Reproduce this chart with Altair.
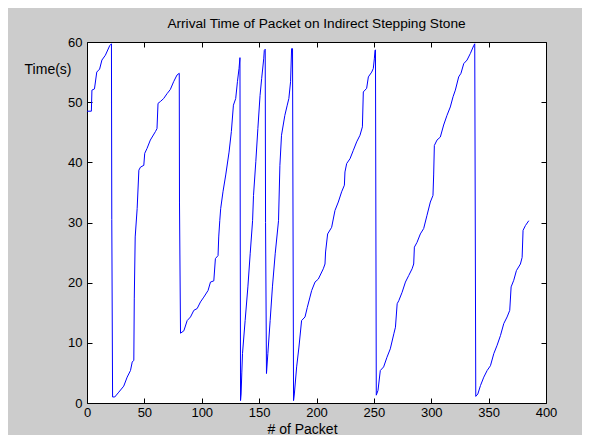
import altair as alt
import pandas as pd

# Packet index (x) and arrival time in seconds (y)
packet = [
    0, 3.8, 4.3, 6.5, 8.5, 11, 13, 16, 19.8, 21.3, 21.6, 22.3,
    24.2, 27.7, 32, 35, 37.9, 39.4, 40.8, 41.2, 42, 43.7, 45.2, 46.6, 49.5, 50.3,
    52.3, 55.2, 59.6, 61, 61.9, 63.9, 66.8, 69.7, 72.6, 75.5, 78.4, 80.4, 80.6, 81.5,
    84.4, 87.3, 90.2, 93.1, 96, 98.9, 101.8, 105.5, 107.6, 110.5, 111.9, 114.2, 114.8,
    115.7, 116.5, 118.5, 120.9, 123.8, 125.8, 127.6, 129.6, 131.1, 132.5, 133.3, 133.8,
    134.3, 134.9, 135.5, 137.8, 140.2, 142.2, 144.3, 145.1, 147.1, 148.9, 150.8, 152.2,
    154, 154.5, 155.3, 155.6, 156.4,
    157.6, 159.6, 161.6, 164, 166.9, 168.1, 169.5, 172.4, 174.5, 175.9, 177.4, 178.3,
    179.1, 180,
    180.7, 182.7, 184.7, 187, 190, 192, 194.3, 195.8, 198.7, 201.6, 205.9, 207.4, 207.9,
    209.7, 213.2, 216.1, 219, 221.9, 224.3, 224.8, 226.3, 229.2, 232.1, 235, 237.9, 240,
    240.8, 243.7, 245.2, 248.1, 249.5, 250.4, 251, 251.4, 252.1,
    253.6, 255.6, 258.5, 261.4, 264.3, 267.4, 268.8, 270.3, 271.7, 274.6, 277.5, 280.4,
    283.3, 284.7, 285.3, 287.6, 290.5, 293.4, 296.3, 299.2, 301.5, 302.1, 302.7, 305,
    307.9, 310.8, 313.7, 316.6, 319, 321, 323.9, 325.9, 328.3, 331.2, 334.1, 337, 337.9,
    338.8,
    340.6, 342.9, 345.8, 348.7, 351.6, 354.5, 357.4, 360.3, 363.2, 366.1, 368.4, 369.6,
    371.9, 374.2, 377.7, 379.2, 380, 382.1, 385,
]
time_s = [
    48.5, 48.5, 52.0, 52.2, 55.0, 55.5, 57.0, 57.8, 59.4, 59.7, 30.5, 1.0,
    1.0, 1.8, 2.8, 4.3, 5.4, 6.8, 7.1, 17.3, 27.6, 32.3, 38.7, 39.2, 39.5, 41.5,
    42.3, 43.7, 45.1, 45.6, 49.8, 50.1, 50.6, 51.4, 52.1, 53.4, 54.5, 54.8, 33.4, 11.6,
    12.0, 13.7, 14.3, 15.4, 15.7, 16.8, 17.6, 18.7, 20.1, 20.3, 24.0, 24.5, 27.6,
    30.3, 32.3, 35.1, 37.9, 41.7, 45.1, 49.5, 50.6, 53.4, 55.6, 57.4, 0.4,
    1.5, 5.0, 8.2, 13.7, 19.3, 24.8, 30.3, 34.5, 40.1, 45.6, 51.1, 53.9,
    57.2, 58.6, 58.8, 30.0, 4.9,
    8.2, 13.7, 19.3, 24.8, 30.3, 39.5, 44.5, 47.8, 49.5, 50.6, 53.4, 58.9,
    58.9, 0.4,
    1.5, 6.0, 9.3, 13.7, 14.3, 15.9, 17.6, 18.7, 20.1, 20.6, 22.3, 23.1, 25.1,
    28.1, 29.2, 32.0, 33.4, 35.1, 36.2, 38.4, 39.8, 40.6, 42.0, 43.4, 44.5, 45.9,
    51.7, 52.3, 54.2, 55.0, 55.6, 57.2, 58.6, 58.7, 1.3,
    2.1, 5.4, 6.0, 7.6, 9.0, 11.5, 12.6, 16.5, 17.0, 18.4, 20.1, 21.2,
    22.3, 23.1, 25.9, 26.7, 28.1, 29.0, 31.2, 33.4, 34.5, 37.9, 42.8, 43.7,
    44.2, 46.2, 47.8, 49.2, 50.9, 52.0, 54.2, 54.8, 56.4, 57.0, 58.1, 59.4, 59.7,
    1.1,
    1.5, 2.9, 4.3, 5.4, 6.2, 8.2, 9.6, 11.2, 13.2, 14.3, 15.4, 19.3,
    20.4, 22.0, 23.1, 24.2, 28.7, 29.5, 30.3,
]
x_ticks = [0, 50, 100, 150, 200, 250, 300, 350, 400]
y_ticks = [0, 10, 20, 30, 40, 50, 60]

df = pd.DataFrame({"packet": packet, "time": time_s, "idx": list(range(len(packet)))})

FONT = "Liberation Sans"
xscale = alt.Scale(domain=[0, 400], nice=False, zero=False)
yscale = alt.Scale(domain=[0, 60], nice=False, zero=False)

line = alt.Chart(df).mark_line(color="#0000ff", strokeWidth=1).encode(
    x=alt.X("packet:Q", scale=xscale,
            axis=alt.Axis(orient="bottom", values=x_ticks, offset=-5, tickSize=5,
                          domain=False, grid=False, labelPadding=3, labelFontSize=13,
                          labelFont=FONT, labelColor="#000", tickColor="#000",
                          title="# of Packet", titleFont=FONT, titleFontSize=14,
                          titleFontWeight="normal", titleColor="#000",
                          titleX=215, titleY=35, titleAlign="center",
                          titleBaseline="alphabetic", titleAnchor="start",
                          labelFlush=False, labelOverlap=False)),
    y=alt.Y("time:Q", scale=yscale,
            axis=alt.Axis(orient="left", values=y_ticks, offset=-5, tickSize=5,
                          domain=False, grid=False, labelPadding=5, labelFontSize=13,
                          labelFont=FONT, labelColor="#000", tickColor="#000",
                          title="Time(s)", titleFont=FONT, titleFontSize=14,
                          titleFontWeight="normal", titleColor="#000", titleAngle=0,
                          titleX=-21, titleY=31, titleAlign="right",
                          titleBaseline="alphabetic", titleAnchor="start",
                          labelFlush=False, labelOverlap=False)),
    order="idx:Q",
)

frame = alt.Chart(df).mark_line(opacity=0).encode(
    x=alt.X("packet:Q", scale=xscale,
            axis=alt.Axis(orient="top", values=x_ticks, offset=-5, tickSize=5,
                          domain=False, grid=False, labels=False, title=None,
                          tickColor="#000")),
    y=alt.Y("time:Q", scale=yscale,
            axis=alt.Axis(orient="right", values=y_ticks, offset=-5, tickSize=5,
                          domain=False, grid=False, labels=False, title=None,
                          tickColor="#000")),
    order="idx:Q",
)

chart = alt.layer(line, frame).resolve_axis(x="independent", y="independent").properties(
    width=459,
    height=361,
    autosize=alt.AutoSizeParams(type="none"),
    padding={"left": 79, "top": 34, "right": 36, "bottom": 32},
    background="#cccccc",
    title=alt.TitleParams(
        "Arrival Time of Packet on Indirect Stepping Stone",
        font=FONT, fontSize=13.7, fontWeight="normal", color="#000",
        anchor="middle", offset=14, baseline="alphabetic", frame="group", dy=20,
    ),
).configure_view(fill="#ffffff", stroke="#000000", strokeWidth=1)

chart.save("out.html", embed_options={"renderer": "svg", "actions": False})
